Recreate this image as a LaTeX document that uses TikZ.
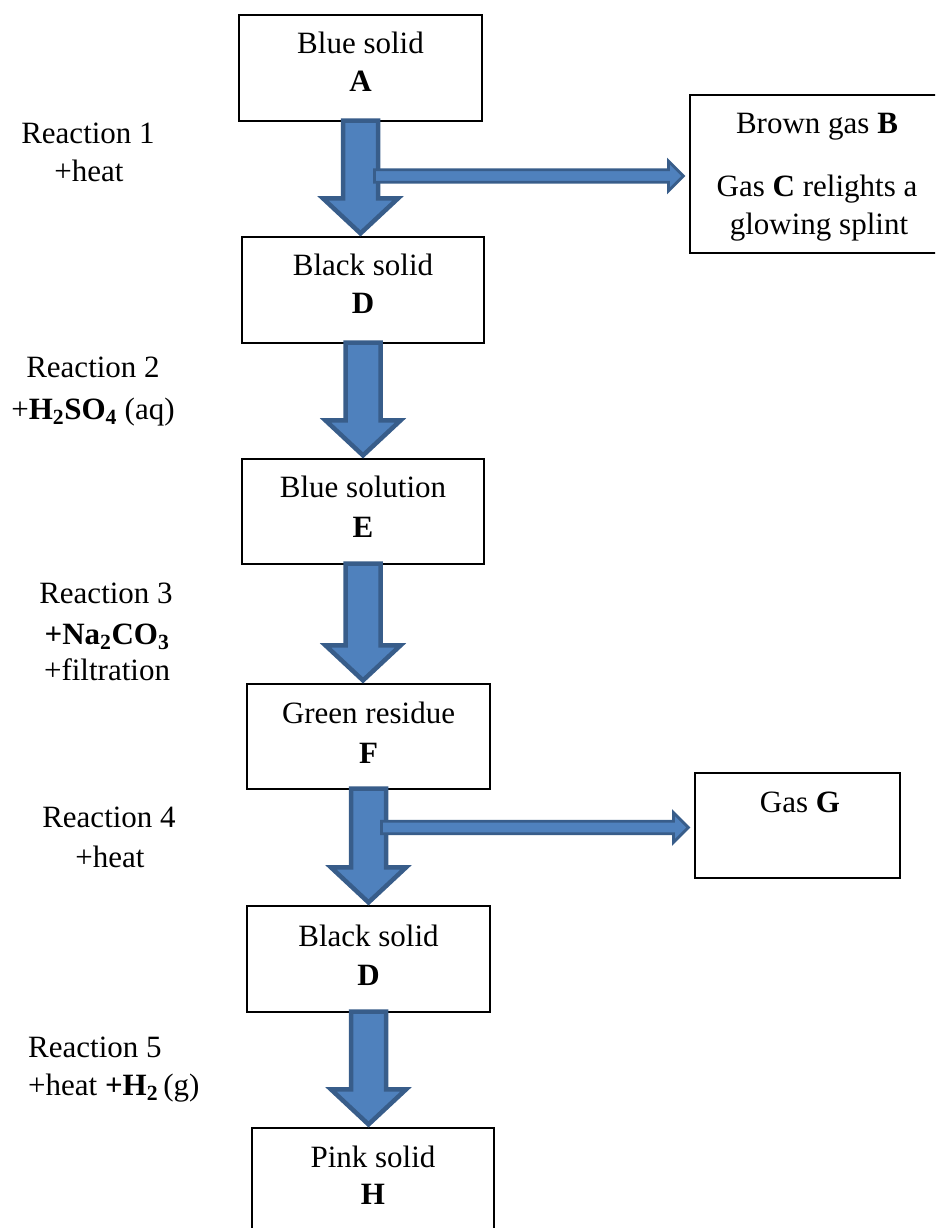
\documentclass[tikz,border=0pt]{standalone}
\usepackage{fontspec}
\setmainfont{Liberation Serif}
\usetikzlibrary{calc}
\definecolor{arrowfill}{HTML}{4F81BD}
\definecolor{arrowline}{HTML}{385D8A}
\tikzset{
  box/.style={draw=black, line width=1.2pt, fill=white, inner sep=0pt},
  lbl/.style={anchor=base, inner sep=0pt, font=\fontsize{31}{38}\selectfont},
  lbll/.style={anchor=base west, inner sep=0pt, font=\fontsize{31}{38}\selectfont},
  bigarrow/.style={draw=arrowline, fill=arrowfill, line width=4.5pt, line join=miter},
  thinarrow/.style={draw=arrowline, fill=arrowfill, line width=2.8pt, line join=miter}
}
\newcommand\fatarrow[2]{%
  \draw[bigarrow] ($(#1.south)+(-17.5,-1)$) -- ($(#1.south)+(17.5,-1)$)
    -- ($(#1.south |- #2.north)+(17.5,-38)$) -- ($(#1.south |- #2.north)+(37.5,-38)$)
    -- ($(#1.south |- #2.north)+(0,-3)$) -- ($(#1.south |- #2.north)+(-37.5,-38)$)
    -- ($(#1.south |- #2.north)+(-17.5,-38)$) -- cycle;}
\newcommand\sidearrow[3]{%
  \draw[thinarrow] ($(#1.south |- #2.west)+(#3,-4.25)$) -- ($(#2.west)+(-21,-4.25)$)
    -- ($(#2.west)+(-21,-13)$) -- ($(#2.west)+(-6,2)$) -- ($(#2.west)+(-21,17)$)
    -- ($(#2.west)+(-21,8.25)$) -- ($(#1.south |- #2.west)+(#3,8.25)$) -- cycle;}
\begin{document}
\begin{tikzpicture}[x=1pt,y=-1pt]
\useasboundingbox (0,0) rectangle (935,1228);
\clip (0,0) rectangle (935,1228);
% boxes
\node[box, minimum width=243pt, minimum height=106pt] (A) at (360.5,68) {};
\node[box, minimum width=242pt, minimum height=106pt] (D1) at (363,290) {};
\node[box, minimum width=242pt, minimum height=105pt] (E) at (363,511.5) {};
\node[box, minimum width=243pt, minimum height=105pt] (F) at (368.5,736.5) {};
\node[box, minimum width=243pt, minimum height=106pt] (D2) at (368.5,959) {};
\node[box, minimum width=242pt, minimum height=120pt] (H) at (373,1188) {};
\node[box, minimum width=260pt, minimum height=158pt] (B) at (820,174) {};
\node[box, minimum width=205pt, minimum height=105pt] (G) at (797.5,825.5) {};
% box texts
\node[lbl] (At1) at (360.5,54) {Blue solid};
\node[lbl] (At2) at (360.5,92) {\textbf{A}};
\node[lbl] (D1t1) at (363,275) {Black solid};
\node[lbl] (D1t2) at (363,313) {\textbf{D}};
\node[lbl] (Et1) at (363,497) {Blue solution};
\node[lbl] (Et2) at (363,537) {\textbf{E}};
\node[lbl] (Ft1) at (368.5,723) {Green residue};
\node[lbl] (Ft2) at (368.5,763) {\textbf{F}};
\node[lbl] (D2t1) at (368.5,946) {Black solid};
\node[lbl] (D2t2) at (368.5,985) {\textbf{D}};
\node[lbl] (Ht1) at (373,1167) {Pink solid};
\node[lbl] (Ht2) at (373,1204) {\textbf{H}};
\node[lbl] (Bt1) at (817,134) {Brown gas \textbf{B}};
\node[lbl] (Bt2) at (817,196) {Gas \textbf{C} relights a};
\node[lbl] (Bt3) at (819,234) {glowing splint};
\node[lbl] (Gt1) at (800,812) {Gas \textbf{G}};
% reaction labels
\node[lbl] (R1a) at (88,143) {Reaction 1};
\node[lbl] (R1b) at (89,181) {+heat};
\node[lbl] (R2a) at (93,377) {Reaction 2};
\node[lbl] (R2b) at (93,419) {+\textbf{H\textsubscript{2}SO\textsubscript{4}} (aq)};
\node[lbl] (R3a) at (106,603) {Reaction 3};
\node[lbl] (R3b) at (107,644) {\textbf{+Na\textsubscript{2}CO\textsubscript{3}}};
\node[lbl] (R3c) at (107,680) {+filtration};
\node[lbl] (R4a) at (109,827) {Reaction 4};
\node[lbl] (R4b) at (110,867) {+heat};
\node[lbll] (R5a) at (28,1057) {Reaction 5};
\node[lbll] (R5b) at (28,1095) {+heat \textbf{+H\textsubscript{2}}\,(g)};
% arrows
\fatarrow{A}{D1}
\fatarrow{D1}{E}
\fatarrow{E}{F}
\fatarrow{F}{D2}
\fatarrow{D2}{H}
\sidearrow{A}{B}{14}
\sidearrow{F}{G}{13}
\end{tikzpicture}
\end{document}
